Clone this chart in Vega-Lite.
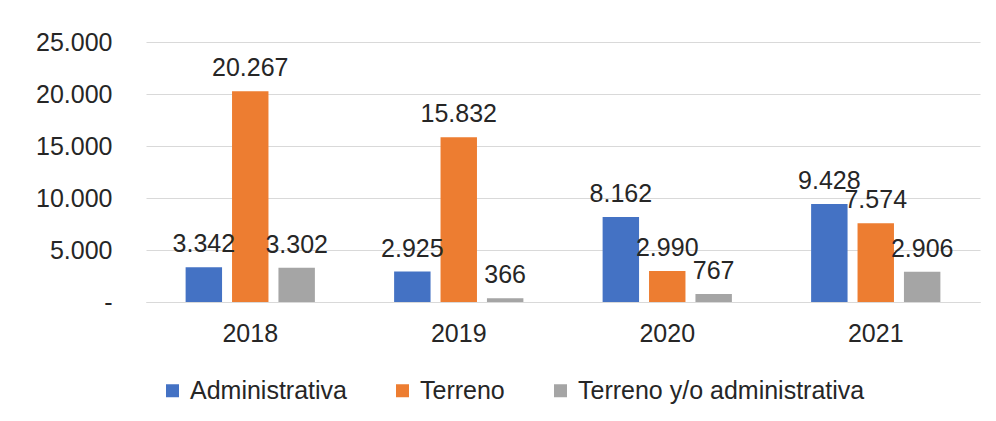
{
  "$schema": "https://vega.github.io/schema/vega-lite/v6.json",
  "autosize": {"type": "none"},
  "width": 834,
  "height": 260,
  "padding": {"left": 146, "top": 42, "right": 16, "bottom": 119},
  "background": "white",
  "config": {
    "view": {"stroke": null},
    "font": "Liberation Sans",
    "locale": {"number": {"decimal": ",", "thousands": ".", "grouping": [3], "currency": ["$", ""]}}
  },
  "data": {
    "values": [
      {"year": "2018", "tipo": "Administrativa", "valor": 3342},
      {"year": "2018", "tipo": "Terreno", "valor": 20267},
      {"year": "2018", "tipo": "Terreno y/o administrativa", "valor": 3302},
      {"year": "2019", "tipo": "Administrativa", "valor": 2925},
      {"year": "2019", "tipo": "Terreno", "valor": 15832},
      {"year": "2019", "tipo": "Terreno y/o administrativa", "valor": 366},
      {"year": "2020", "tipo": "Administrativa", "valor": 8162},
      {"year": "2020", "tipo": "Terreno", "valor": 2990},
      {"year": "2020", "tipo": "Terreno y/o administrativa", "valor": 767},
      {"year": "2021", "tipo": "Administrativa", "valor": 9428},
      {"year": "2021", "tipo": "Terreno", "valor": 7574},
      {"year": "2021", "tipo": "Terreno y/o administrativa", "valor": 2906}
    ]
  },
  "encoding": {
    "x": {
      "field": "year", "type": "nominal",
      "scale": {"paddingInner": 0.38, "paddingOuter": 0.19},
      "axis": {"title": null, "labelAngle": 0, "labelFontSize": 25, "labelColor": "#262626", "labelPadding": 19, "ticks": false, "domainColor": "#d9d9d9", "domainWidth": 1}
    },
    "xOffset": {"field": "tipo", "type": "nominal", "scale": {"paddingInner": 0.215, "paddingOuter": 0}},
    "y": {
      "field": "valor", "type": "quantitative",
      "scale": {"domain": [0, 25000], "nice": false},
      "axis": {"title": null, "values": [0, 5000, 10000, 15000, 20000, 25000], "format": ",d", "labelExpr": "datum.value == 0 ? '-' : datum.label", "labelFontSize": 25, "labelColor": "#262626", "labelPadding": 34, "ticks": false, "domain": false, "gridColor": "#d9d9d9", "gridWidth": 1}
    }
  },
  "layer": [
    {
      "mark": {"type": "bar"},
      "encoding": {
        "color": {
          "field": "tipo", "type": "nominal",
          "scale": {"domain": ["Administrativa", "Terreno", "Terreno y/o administrativa"], "range": ["#4472C4", "#ED7D31", "#A5A5A5"]},
          "legend": {"title": null, "orient": "none", "legendX": 14, "legendY": 336, "direction": "horizontal", "symbolType": "square", "symbolSize": 169, "symbolStrokeWidth": 0, "labelFontSize": 25, "labelColor": "#262626", "labelLimit": 0, "columnPadding": 43, "labelOffset": 5, "padding": 0}
        }
      }
    },
    {
      "mark": {"type": "text", "baseline": "alphabetic", "dy": -15, "fontSize": 25, "color": "#262626"},
      "encoding": {"text": {"field": "valor", "type": "quantitative", "format": ",d"}}
    }
  ]
}
